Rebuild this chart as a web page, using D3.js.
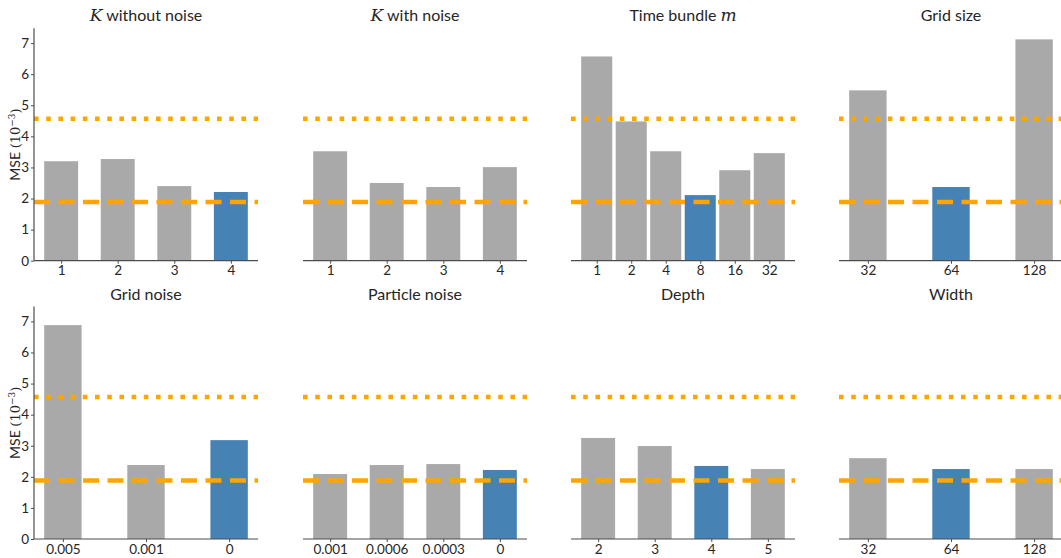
<!DOCTYPE html>
<html>
<head>
<meta charset="utf-8">
<script src="https://cdn.jsdelivr.net/npm/d3@7"></script>
<style>
  html, body { margin: 0; padding: 0; background: #fff; }
  svg { display: block; }
  text { font-family: Lato, "DejaVu Sans", sans-serif; fill: #262626; }
  .math { font-family: "DejaVu Serif", "Liberation Serif", serif; font-style: italic; }
</style>
</head>
<body>
<svg id="chart" width="1061" height="558"></svg>
<script>
// MSE (x 1e-3) for each ablation study
const kNoNoiseLabels = ["1", "2", "3", "4"];
const kNoNoiseValues = [3.20, 3.27, 2.40, 2.21];

const kNoiseLabels = ["1", "2", "3", "4"];
const kNoiseValues = [3.52, 2.50, 2.37, 3.01];

const bundleLabels = ["1", "2", "4", "8", "16", "32"];
const bundleValues = [6.57, 4.48, 3.52, 2.11, 2.91, 3.46];

const gridSizeLabels = ["32", "64", "128"];
const gridSizeValues = [5.48, 2.37, 7.12];

const gridNoiseLabels = ["0.005", "0.001", "0"];
const gridNoiseValues = [6.88, 2.38, 3.18];

const particleNoiseLabels = ["0.001", "0.0006", "0.0003", "0"];
const particleNoiseValues = [2.09, 2.38, 2.41, 2.22];

const depthLabels = ["2", "3", "4", "5"];
const depthValues = [3.25, 2.99, 2.35, 2.25];

const widthLabels = ["32", "64", "128"];
const widthValues = [2.60, 2.25, 2.25];

// index of the chosen setting in each study
const chosenIndex = [3, -1, 3, 1, 2, 3, 2, 1];

// baseline reference levels
const dottedBaseline = 4.57;
const dashedBaseline = 1.885;

const yTicks = [0, 1, 2, 3, 4, 5, 6, 7];

const panels = [
  { title: [["K", true], [" without noise", false]], labels: kNoNoiseLabels, values: kNoNoiseValues },
  { title: [["K", true], [" with noise", false]], labels: kNoiseLabels, values: kNoiseValues },
  { title: [["Time bundle ", false], ["m", true]], labels: bundleLabels, values: bundleValues },
  { title: [["Grid size", false]], labels: gridSizeLabels, values: gridSizeValues },
  { title: [["Grid noise", false]], labels: gridNoiseLabels, values: gridNoiseValues },
  { title: [["Particle noise", false]], labels: particleNoiseLabels, values: particleNoiseValues },
  { title: [["Depth", false]], labels: depthLabels, values: depthValues },
  { title: [["Width", false]], labels: widthLabels, values: widthValues }
];

const svg = d3.select("#chart");
const colLeft = [34, 303, 571, 839];
const panelW = 224;
const rowTop = [28.3, 306.6];
const panelH = 232.4;

const allValues = panels.flatMap(p => p.values);
const yMax = d3.max(allValues) * 1.05;

const gray = "#a9a9a9", blue = "#4682b4", orange = "#ffa500", spine = "#4d4d4d";

panels.forEach((p, i) => {
  const row = Math.floor(i / 4), col = i % 4;
  const x0 = colLeft[col], y0 = rowTop[row];
  const g = svg.append("g").attr("transform", `translate(${x0},${y0})`);

  const n = p.values.length;
  const barW = 0.15 * n;
  const margin = 0.05 * (n - 1 + barW);
  const x = d3.scaleLinear()
    .domain([-barW / 2 - margin, n - 1 + barW / 2 + margin])
    .range([0, panelW]);
  const y = d3.scaleLinear().domain([0, yMax]).range([panelH, 0]);

  // bars
  g.selectAll("rect.bar")
    .data(p.values)
    .join("rect")
    .attr("class", "bar")
    .attr("x", (d, j) => x(j - barW / 2))
    .attr("width", (d, j) => x(j + barW / 2) - x(j - barW / 2))
    .attr("y", d => y(d))
    .attr("height", d => y(0) - y(d))
    .attr("fill", (d, j) => j === chosenIndex[i] ? blue : gray);

  // baselines
  g.append("line")
    .attr("x1", 0).attr("x2", panelW)
    .attr("y1", y(dottedBaseline)).attr("y2", y(dottedBaseline))
    .attr("stroke", orange).attr("stroke-width", 4.5)
    .attr("stroke-dasharray", "4.6,7.6");
  g.append("line")
    .attr("x1", 0).attr("x2", panelW)
    .attr("y1", y(dashedBaseline)).attr("y2", y(dashedBaseline))
    .attr("stroke", orange).attr("stroke-width", 4.5)
    .attr("stroke-dasharray", "16,8.5");

  // x axis
  const xAxis = d3.axisBottom(x)
    .tickValues(d3.range(n))
    .tickFormat(j => p.labels[j])
    .tickSize(3)
    .tickPadding(2);
  const gx = g.append("g").attr("transform", `translate(0,${panelH})`).call(xAxis);
  gx.select(".domain").attr("stroke", spine).attr("stroke-width", 1.2).attr("d", `M0,0H${panelW}`);
  gx.selectAll(".tick line").attr("stroke", spine);
  gx.selectAll(".tick text").attr("font-size", 13.5).attr("fill", "#262626")
    .style("font-family", "Lato, 'DejaVu Sans', sans-serif");

  // y axis only on the first column
  if (col === 0) {
    const yAxis = d3.axisLeft(y).tickValues(yTicks).tickFormat(d3.format("d")).tickSize(3).tickPadding(2);
    const gy = g.append("g").call(yAxis);
    gy.select(".domain").attr("stroke", spine).attr("stroke-width", 1.2).attr("d", `M0,0V${panelH}`);
    gy.selectAll(".tick line").attr("stroke", spine);
    gy.selectAll(".tick text").attr("font-size", 13.5).attr("fill", "#262626")
      .style("font-family", "Lato, 'DejaVu Sans', sans-serif");

    const lab = g.append("text")
      .attr("transform", `translate(-14,${panelH / 2}) rotate(-90)`)
      .attr("text-anchor", "middle")
      .attr("font-size", 14);
    lab.append("tspan").text("MSE ");
    lab.append("tspan").attr("font-family", "'DejaVu Serif', serif").attr("font-size", 13).text("(10");
    lab.append("tspan").attr("font-family", "'DejaVu Serif', serif").attr("font-size", 9).attr("dy", -5).text("−3");
    lab.append("tspan").attr("font-family", "'DejaVu Serif', serif").attr("font-size", 13).attr("dy", 5).text(")");
  }

  // title
  const t = g.append("text")
    .attr("x", panelW / 2)
    .attr("y", -7)
    .attr("text-anchor", "middle")
    .attr("font-size", 16);
  p.title.forEach(([s, isMath]) => {
    const ts = t.append("tspan").text(s);
    if (isMath) ts.attr("class", "math").attr("font-size", 17);
  });
});
</script>
</body>
</html>
